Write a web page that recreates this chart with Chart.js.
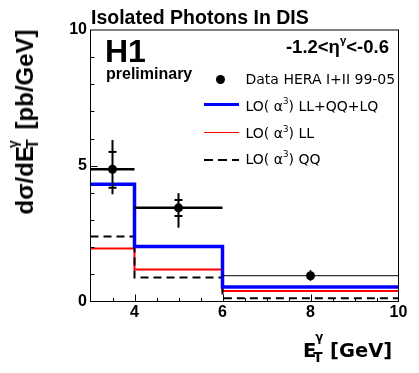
<!DOCTYPE html>
<html>
<head>
<meta charset="utf-8">
<script src="https://cdn.jsdelivr.net/npm/chart.js@4"></script>
<style>
  html, body { margin: 0; padding: 0; background: #fff; }
  #wrap { position: relative; width: 419px; height: 373px; overflow: hidden; }
  #c { position: absolute; left: 0; top: 0; }
  .t { position: absolute; white-space: nowrap; line-height: 1; color: #000; }
  .b { font-family: "Liberation Sans", Arial, sans-serif; font-weight: bold; }
  .dj { font-family: "DejaVu Sans", sans-serif; }
  .djb { font-family: "DejaVu Sans", sans-serif; font-weight: bold; }
  .up { position: relative; font-size: 0.62em; top: -0.75em; }
  .ud { display: inline-block; position: relative; height: 0; }
  .ud span { position: absolute; left: 0; line-height: 1; }
  .sw { position: absolute; }
</style>
</head>
<body>
<div id="wrap">
  <canvas id="c" width="419" height="373"></canvas>

  <div class="t b" style="left:91px; top:7.5px; font-size:19.5px;">Isolated Photons In DIS</div>
  <div class="t b" style="left:105px; top:35px; font-size:32px;">H1</div>
  <div class="t b" style="left:106px; top:66px; font-size:16px;">preliminary</div>
  <div class="t b" style="right:30px; top:37.5px; font-size:18.5px;">-1.2&lt;η<span class="up">γ</span>&lt;-0.6</div>

  <!-- legend -->
  <div class="sw" style="left:216px; top:75px; width:9px; height:9px; border-radius:50%; background:#000;"></div>
  <div class="sw" style="left:204px; top:103px; width:35px; height:3px; background:#0000ff;"></div>
  <div class="sw" style="left:204px; top:132px; width:35px; height:1px; background:#ff0000;"></div>
  <div class="sw" style="left:204px; top:159px; width:9px; height:2px; background:#000;"></div>
  <div class="sw" style="left:218px; top:159px; width:9px; height:2px; background:#000;"></div>
  <div class="sw" style="left:232px; top:159px; width:7px; height:2px; background:#000;"></div>

  <div class="t dj" style="left:245.5px; top:72.3px; font-size:14px;">Data HERA I+II 99-05</div>
  <div class="t dj" style="left:245.5px; top:98.5px; font-size:14px;">LO( α<span class="up">3</span>) LL+QQ+LQ</div>
  <div class="t dj" style="left:245.5px; top:126px; font-size:14px;">LO( α<span class="up">3</span>) LL</div>
  <div class="t dj" style="left:245.5px; top:151.5px; font-size:14px;">LO( α<span class="up">3</span>) QQ</div>

  <!-- x axis title -->
  <div class="t djb" style="left:303px; top:340.8px; font-size:19.5px;">E<span class="ud" style="width:7px;"><span style="left:-1px; top:-25px; font-size:11.7px;">γ</span><span style="left:-3px; top:-6px; font-size:13.7px;">T</span></span> [GeV]</div>

  <!-- y axis title -->
  <div id="ytitle" class="t b" style="left:24.7px; top:122px; font-size:24px; transform: translate(-50%,-50%) rotate(-90deg);">dσ/dE<span class="ud" style="width:10px;"><span style="left:-2px; top:-27px; font-size:14px;">γ</span><span style="left:-3px; top:-8px; font-size:16px;">T</span></span> [pb/GeV]</div>
</div>

<script>
// ---- data ----
const binEdges   = [3, 4, 6, 10];
const llqqlq     = [4.32, 2.03, 0.53];   // LO(a^3) LL+QQ+LQ
const llOnly     = [1.95, 1.18, 0.39];   // LO(a^3) LL
const qqOnly     = [2.39, 0.88, 0.12];   // LO(a^3) QQ

const dataX      = [3.5, 5, 8];
const dataY      = [4.87, 3.45, 0.95];
const dataXLow   = [3, 4, 6];
const dataXHigh  = [4, 6, 10];
const statHigh   = [5.51, 3.74, null];
const statLow    = [4.19, 3.15, null];
const totHigh    = [5.95, 3.99, 1.16];
const totLow     = [3.95, 2.72, 0.76];

const xTickValues = [4, 6, 8, 10];
const yTickValues = [0, 5, 10];

// ---- helpers ----
function stepPoints(edges, vals) {
  return edges.map((e, i) => ({ x: e, y: vals[Math.min(i, vals.length - 1)] }));
}

const errorBars = {
  id: 'errorBars',
  afterDatasetsDraw(chart, args, opts) {
    const xs = chart.scales.x, ys = chart.scales.y, ctx = chart.ctx;
    ctx.save();
    ctx.strokeStyle = '#000';
    ctx.lineCap = 'butt';
    for (let i = 0; i < dataX.length; i++) {
      const px = xs.getPixelForValue(dataX[i]);
      const py = ys.getPixelForValue(dataY[i]);
      ctx.lineWidth = opts.hWidths[i];
      ctx.beginPath();
      ctx.moveTo(xs.getPixelForValue(dataXLow[i]), py);
      ctx.lineTo(xs.getPixelForValue(dataXHigh[i]), py);
      ctx.stroke();
      ctx.lineWidth = opts.vWidths[i];
      ctx.beginPath();
      ctx.moveTo(px, ys.getPixelForValue(totLow[i]));
      ctx.lineTo(px, ys.getPixelForValue(totHigh[i]));
      ctx.stroke();
      if (statHigh[i] !== null) {
        ctx.lineWidth = 2;
        const hw = opts.capHalf;
        [statHigh[i], statLow[i]].forEach(v => {
          const yy = ys.getPixelForValue(v);
          ctx.beginPath();
          ctx.moveTo(px - hw, yy);
          ctx.lineTo(px + hw, yy);
          ctx.stroke();
        });
      }
    }
    ctx.restore();
  }
};

const frameTicks = {
  id: 'frameTicks',
  afterDraw(chart) {
    const a = chart.chartArea, ctx = chart.ctx;
    const xs = chart.scales.x, ys = chart.scales.y;
    ctx.save();
    ctx.strokeStyle = '#000';
    ctx.lineWidth = 1;
    ctx.strokeRect(a.left, a.top, a.right - a.left, a.bottom - a.top);
    ctx.beginPath();
    for (let v = ys.min + 1; v < ys.max; v += 1) {
      const y = Math.round(ys.getPixelForValue(v)) + 0.5;
      const len = (v % 5 === 0) ? 7 : 4;
      ctx.moveTo(a.left, y); ctx.lineTo(a.left + len, y);
    }
    for (let v = xs.min + 0.5; v < xs.max; v += 0.5) {
      const x = Math.round(xs.getPixelForValue(v)) + 0.5;
      const len = xTickValues.includes(v) ? 7 : 3.5;
      ctx.moveTo(x, a.bottom); ctx.lineTo(x, a.bottom - len);
    }
    ctx.stroke();
    ctx.restore();
  }
};

const tickFont = { family: '"Liberation Sans", Arial, sans-serif', weight: 'bold', size: 16, lineHeight: 1.2 };

new Chart(document.getElementById('c'), {
  type: 'scatter',
  data: {
    datasets: [
      {
        label: 'Data HERA I+II 99-05',
        type: 'scatter',
        data: dataX.map((x, i) => ({ x: x, y: dataY[i] })),
        pointRadius: 4.5,
        pointBackgroundColor: '#000',
        pointBorderWidth: 0,
        order: 0
      },
      {
        label: 'LO(α3) LL+QQ+LQ',
        type: 'line',
        data: stepPoints(binEdges, llqqlq),
        stepped: 'before',
        borderColor: '#0000ff',
        borderWidth: 3.5,
        pointRadius: 0,
        fill: false,
        order: 1
      },
      {
        label: 'LO(α3) QQ',
        type: 'line',
        data: stepPoints(binEdges, qqOnly),
        stepped: 'before',
        borderColor: '#000',
        borderWidth: 2,
        borderDash: [8, 5],
        pointRadius: 0,
        fill: false,
        order: 2
      },
      {
        label: 'LO(α3) LL',
        type: 'line',
        data: stepPoints(binEdges, llOnly),
        stepped: 'before',
        borderColor: '#ff0000',
        borderWidth: 2,
        pointRadius: 0,
        fill: false,
        order: 3
      }
    ]
  },
  options: {
    responsive: false,
    animation: false,
    devicePixelRatio: 1,
    layout: { padding: { left: 0, right: 20.5, top: 30, bottom: 0 } },
    plugins: {
      legend: { display: false },
      tooltip: { enabled: false },
      title: { display: false },
      errorBars: { hWidths: [2.5, 2.5, 1], vWidths: [2, 2, 1.5], capHalf: 4 }
    },
    scales: {
      x: {
        type: 'linear',
        min: 3, max: 10,
        grid: { display: false, drawTicks: false },
        border: { display: false },
        ticks: { color: '#000', font: tickFont, padding: 1, maxRotation: 0 },
        afterBuildTicks(scale) { scale.ticks = xTickValues.map(v => ({ value: v })); },
        afterFit(scale) { scale.height = 71.5; }
      },
      y: {
        type: 'linear',
        min: 0, max: 10,
        grid: { display: false, drawTicks: false },
        border: { display: false },
        ticks: { color: '#000', font: tickFont, padding: 3.5 },
        afterBuildTicks(scale) { scale.ticks = yTickValues.map(v => ({ value: v })); },
        afterFit(scale) { scale.width = 90.5; }
      }
    }
  },
  plugins: [errorBars, frameTicks]
});
</script>
</body>
</html>
